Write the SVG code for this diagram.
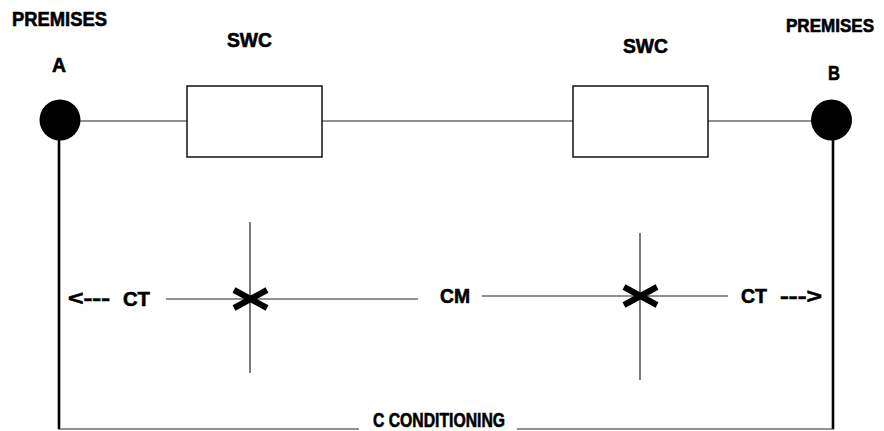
<svg xmlns="http://www.w3.org/2000/svg" width="884" height="431" viewBox="0 0 884 431">
<style>
.t{font-family:"Liberation Sans",Arial,sans-serif;font-weight:bold;font-size:20px;fill:#000;stroke:#000;stroke-width:0.6;}
.thin{stroke:#222;stroke-width:1.2;fill:none;}
.thick{stroke:#000;stroke-width:2.6;fill:none;}
.box{fill:#fff;stroke:#111;stroke-width:1.5;}
.x{stroke:#000;stroke-width:6;fill:none;}
</style>
<rect width="884" height="431" fill="#fff"/>
<g id="connectors">
<line class="thin" x1="60" y1="121" x2="187" y2="121"/>
<line class="thin" x1="322" y1="121" x2="573" y2="121"/>
<line class="thin" x1="708" y1="121" x2="831" y2="121"/>
<line class="thick" x1="59" y1="130" x2="59" y2="429"/>
<line class="thick" x1="833" y1="130" x2="833" y2="429"/>
<line class="thin" x1="58" y1="429" x2="359" y2="429" stroke-width="1.6"/>
<line class="thin" x1="517" y1="429" x2="834" y2="429" stroke-width="1.6"/>
<line class="thin" x1="166" y1="299" x2="418" y2="299"/>
<line class="thin" x1="482" y1="296" x2="728" y2="296"/>
<line class="thin" x1="250" y1="222" x2="250" y2="373"/>
<line class="thin" x1="640" y1="233" x2="640" y2="380" stroke="#777"/>
</g>
<g id="nodeA">
<circle cx="60" cy="120" r="20.5" fill="#000"/>
<text class="t" x="12" y="26" textLength="95" lengthAdjust="spacingAndGlyphs">PREMISES</text>
<text class="t" x="52" y="72" textLength="14" lengthAdjust="spacingAndGlyphs">A</text>
</g>
<g id="nodeB">
<circle cx="831.5" cy="120" r="20.5" fill="#000"/>
<text class="t" x="786" y="32" style="font-size:17.5px" textLength="88" lengthAdjust="spacingAndGlyphs">PREMISES</text>
<text class="t" x="828" y="80" textLength="12" lengthAdjust="spacingAndGlyphs">B</text>
</g>
<g id="swc1">
<rect class="box" x="187" y="86" width="135" height="71"/>
<text class="t" x="227" y="47" textLength="45" lengthAdjust="spacingAndGlyphs">SWC</text>
</g>
<g id="swc2">
<rect class="box" x="573" y="86" width="135" height="71"/>
<text class="t" x="623" y="53" textLength="45" lengthAdjust="spacingAndGlyphs">SWC</text>
</g>
<g id="crossLeft">
<path class="x" d="M234,290 L267,308 M234,308 L267,290"/>
</g>
<g id="crossRight">
<path class="x" d="M624,287 L657,305 M624,305 L657,287"/>
</g>
<g id="labels">
<text class="t" x="68" y="305" textLength="42" lengthAdjust="spacingAndGlyphs">&lt;---</text>
<text class="t" x="123" y="306" textLength="27" lengthAdjust="spacingAndGlyphs">CT</text>
<text class="t" x="440" y="303" textLength="30" lengthAdjust="spacingAndGlyphs">CM</text>
<text class="t" x="741" y="303" textLength="26" lengthAdjust="spacingAndGlyphs">CT</text>
<text class="t" x="780" y="303" textLength="42" lengthAdjust="spacingAndGlyphs">---&gt;</text>
<text class="t" x="373" y="427" textLength="132" lengthAdjust="spacingAndGlyphs">C CONDITIONING</text>
</g>
</svg>
